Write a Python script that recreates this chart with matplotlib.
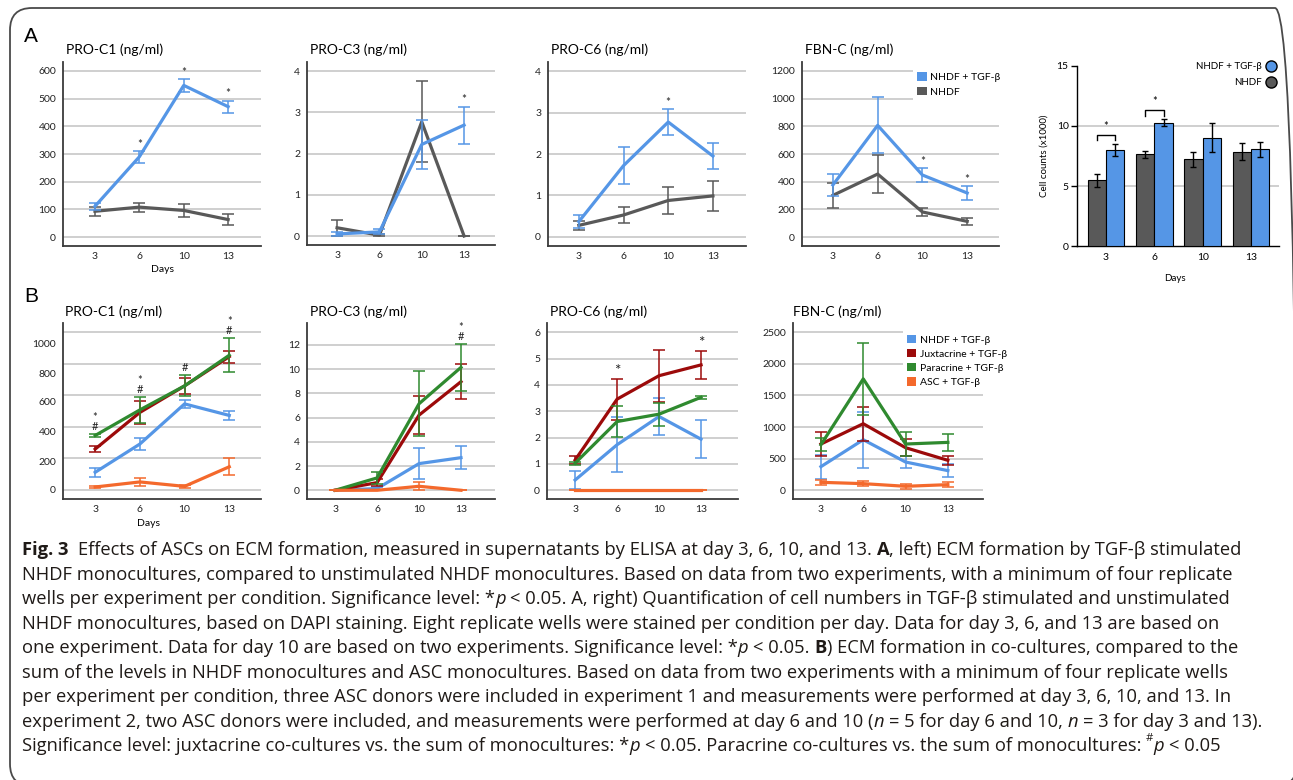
import matplotlib
matplotlib.use('Agg')
import matplotlib.pyplot as plt
from matplotlib.patches import Patch, FancyBboxPatch
from matplotlib.lines import Line2D
from matplotlib.transforms import IdentityTransform
import numpy as np

W, H = 1293, 780
FONT = 'Lato'
CAP_FONT = 'Open Sans'
plt.rcParams['font.family'] = [FONT, 'DejaVu Sans']

BLUE = '#5596E6'
GRAY = '#595959'
RED = '#9C0A0A'
GREEN = '#2F8A2F'
ORANGE = '#F4692C'
GRID = '#CCCCCC'
SPINE = '#3A3A3A'

days = ['3', '6', '10', '13']

# ---------------- Panel A data ----------------
a_pc1_tgf = [111, 290, 548, 471]
a_pc1_tgf_err = [13, 21, 23, 22]
a_pc1_nhdf = [93, 108, 96, 63]
a_pc1_nhdf_err = [17, 16, 23, 20]
a_pc1_sig = ['', '*', '*', '*']

a_pc3_tgf = [0.05, 0.10, 2.22, 2.69]
a_pc3_tgf_err = [0.05, 0.06, 0.60, 0.45]
a_pc3_nhdf = [0.20, 0.02, 2.77, 0.0]
a_pc3_nhdf_err = [0.20, 0.02, 0.98, 0.0]
a_pc3_sig = ['', '', '', '*']

a_pc6_tgf = [0.37, 1.72, 2.77, 1.95]
a_pc6_tgf_err = [0.16, 0.45, 0.31, 0.31]
a_pc6_nhdf = [0.28, 0.53, 0.88, 0.99]
a_pc6_nhdf_err = [0.10, 0.20, 0.33, 0.37]
a_pc6_sig = ['', '', '*', '']

a_fbn_tgf = [376, 807, 448, 318]
a_fbn_tgf_err = [80, 203, 48, 48]
a_fbn_nhdf = [301, 455, 181, 113]
a_fbn_nhdf_err = [89, 140, 31, 28]
a_fbn_sig = ['', '', '*', '*']

cells_nhdf = [5.47, 7.64, 7.22, 7.86]
cells_nhdf_err = [0.53, 0.27, 0.63, 0.72]
cells_tgf = [8.03, 10.28, 9.03, 8.06]
cells_tgf_err = [0.50, 0.27, 1.18, 0.62]
cells_sig = ['*', '*', '', '']

a_labels = ['NHDF + TGF-β', 'NHDF']

# ---------------- Panel B data ----------------
b_labels = ['NHDF + TGF-β', 'Juxtacrine + TGF-β', 'Paracrine + TGF-β', 'ASC + TGF-β']

b_pc1 = [[112, 291, 545, 472], [259, 491, 659, 844], [345, 507, 659, 853], [19, 51, 23, 147]]
b_pc1_err = [[30, 35, 24, 30], [20, 75, 50, 38], [10, 80, 66, 108], [8, 26, 9, 54]]
b_pc1_juxta_sig = ['*', '*', '', '*']
b_pc1_para_sig = ['#', '#', '#', '#']
b_pc1_ticks = [0, 200, 400, 600, 800, 1000]

b_pc3 = [[0, 0.14, 2.20, 2.69], [0, 0.63, 6.20, 8.96], [0, 1.02, 7.14, 10.14], [0, 0, 0.33, 0]]
b_pc3_err = [[0, 0.12, 1.25, 0.96], [0, 0.30, 1.57, 1.43], [0, 0.50, 2.68, 1.94], [0, 0, 0.33, 0]]
b_pc3_juxta_sig = ['', '', '', '*']
b_pc3_para_sig = ['', '', '', '#']

b_pc6 = [[0.39, 1.73, 2.80, 1.94], [1.15, 3.46, 4.35, 4.76], [1.03, 2.61, 2.89, 3.53], [0, 0, 0, 0]]
b_pc6_err = [[0.35, 1.05, 0.70, 0.72], [0.16, 0.78, 0.99, 0.52], [0.06, 0.60, 0.44, 0.05], [0, 0, 0, 0]]
b_pc6_juxta_sig = ['', '*', '', '*']

b_fbn = [[374, 800, 447, 311], [732, 1053, 674, 474], [721, 1763, 732, 758], [126, 105, 63, 89]]
b_fbn_err = [[190, 440, 100, 100], [197, 271, 137, 74], [100, 570, 195, 131], [37, 42, 37, 45]]

b_colors = [BLUE, RED, GREEN, ORANGE]

caption_lines = [
    [("Fig. 3", 'b'), ("  Effects of ASCs on ECM formation, measured in supernatants by ELISA at day 3, 6, 10, and 13. ", 'n'),
     ("A", 'b'), (", left) ECM formation by TGF-β stimulated", 'n')],
    [("NHDF monocultures, compared to unstimulated NHDF monocultures. Based on data from two experiments, with a minimum of four replicate", 'n')],
    [("wells per experiment per condition. Significance level: *", 'n'), ("p", 'i'),
     (" < 0.05. A, right) Quantification of cell numbers in TGF-β stimulated and unstimulated", 'n')],
    [("NHDF monocultures, based on DAPI staining. Eight replicate wells were stained per condition per day. Data for day 3, 6, and 13 are based on", 'n')],
    [("one experiment. Data for day 10 are based on two experiments. Significance level: *", 'n'), ("p", 'i'),
     (" < 0.05. ", 'n'), ("B", 'b'), (") ECM formation in co-cultures, compared to the", 'n')],
    [("sum of the levels in NHDF monocultures and ASC monocultures. Based on data from two experiments with a minimum of four replicate wells", 'n')],
    [("per experiment per condition, three ASC donors were included in experiment 1 and measurements were performed at day 3, 6, 10, and 13. In", 'n')],
    [("experiment 2, two ASC donors were included, and measurements were performed at day 6 and 10 (", 'n'), ("n", 'i'),
     (" = 5 for day 6 and 10, ", 'n'), ("n", 'i'), (" = 3 for day 3 and 13).", 'n')],
    [("Significance level: juxtacrine co-cultures vs. the sum of monocultures: *", 'n'), ("p", 'i'),
     (" < 0.05. Paracrine co-cultures vs. the sum of monocultures: ", 'n'), ("#", 's'), ("p", 'i'), (" < 0.05", 'n')],
]

fig = plt.figure(figsize=(W / 100, H / 100), dpi=100)


def add_ax(l, t, r, b):
    return fig.add_axes([l / W, 1 - b / H, (r - l) / W, (b - t) / H])


def fx(px):
    return px / W


def fy(py):
    return 1 - py / H


def style_line_ax(ax, xlim, ylim, gridvals, tickpos=None, ticklabels=None):
    ax.set_xlim(*xlim)
    ax.set_ylim(*ylim)
    for s in ['top', 'right']:
        ax.spines[s].set_visible(False)
    for s in ['left', 'bottom']:
        ax.spines[s].set_color(SPINE)
        ax.spines[s].set_linewidth(1.3)
    ax.set_xticks(range(len(days)), days)
    if tickpos is None:
        tickpos = gridvals
    if ticklabels is None:
        ticklabels = [f'{v:g}' for v in gridvals]
    ax.set_yticks(tickpos, ticklabels)
    ax.tick_params(length=0, labelsize=7.5, colors='#222222')
    ax.tick_params(axis='x', pad=4)
    ax.tick_params(axis='y', pad=5)
    for v in gridvals:
        ax.axhline(v, color=GRID, lw=1.3, zorder=0)
    ax.set_facecolor('none')


def plot_series(ax, vals, errs, color, z):
    ax.errorbar(range(len(days)), vals, yerr=errs, color=color, lw=2.3,
                elinewidth=1.1, capsize=4.2, capthick=1.1, zorder=z)


def sig_marks(ax, tops, marks, off=1.0, size=8):
    for i, m in enumerate(marks):
        if m:
            ax.annotate(m, (i, tops[i]), xytext=(0, off), textcoords='offset points',
                        ha='center', va='bottom', fontsize=size, color='#222222',
                        annotation_clip=False)


# Outer rounded frame (pixel coordinates, origin bottom-left)
frame = FancyBboxPatch((10, H - 786), 1287, 778,
                       boxstyle='round,pad=0,rounding_size=22', transform=IdentityTransform(),
                       facecolor='none', edgecolor='#4A4A4A', lw=1.3)
fig.patches.append(frame)

fig.text(fx(24), fy(36), 'A', fontsize=15, family='Liberation Sans', va='center', ha='left')
fig.text(fx(24), fy(297), 'B', fontsize=15, family='Liberation Sans', va='center', ha='left')

# ---------------- Panel A line charts ----------------
specs_a = [
    ('PRO-C1 (ng/ml)', (63, 62, 261, 246), (-0.72, 3.74), (-32.5, 632.5), [0, 100, 200, 300, 400, 500, 600],
     a_pc1_tgf, a_pc1_tgf_err, a_pc1_nhdf, a_pc1_nhdf_err, a_pc1_sig, 66),
    ('PRO-C3 (ng/ml)', (307, 62, 495, 245), (-0.71, 3.73), (-0.218, 4.22), [0, 1, 2, 3, 4],
     a_pc3_tgf, a_pc3_tgf_err, a_pc3_nhdf, a_pc3_nhdf_err, a_pc3_sig, 310),
    ('PRO-C6 (ng/ml)', (548, 62, 746, 246), (-0.69, 3.74), (-0.217, 4.217), [0, 1, 2, 3, 4],
     a_pc6_tgf, a_pc6_tgf_err, a_pc6_nhdf, a_pc6_nhdf_err, a_pc6_sig, 551),
    ('FBN-C (ng/ml)', (802, 62, 999, 246), (-0.69, 3.71), (-65, 1265), [0, 200, 400, 600, 800, 1000, 1200],
     a_fbn_tgf, a_fbn_tgf_err, a_fbn_nhdf, a_fbn_nhdf_err, a_fbn_sig, 805),
]

axes_a = []
for title, box, xl, yl, gv, tv, te, nv, ne, sig, tx in specs_a:
    ax = add_ax(*box)
    style_line_ax(ax, xl, yl, gv)
    plot_series(ax, nv, ne, GRAY, 3)
    plot_series(ax, tv, te, BLUE, 4)
    tops = [v + e for v, e in zip(tv, te)]
    sig_marks(ax, tops, sig, off=1.0, size=8.5)
    fig.text(fx(tx), fy(50), title, fontsize=10, va='center', ha='left')
    axes_a.append(ax)

fig.text(fx(162), fy(270), 'Days', fontsize=7.5, ha='center', va='center')

leg = axes_a[3].legend([Patch(facecolor=BLUE), Patch(facecolor=GRAY)], a_labels,
                       loc='upper left', bbox_to_anchor=(fx(913), fy(68)), bbox_transform=fig.transFigure,
                       frameon=True, facecolor='white', edgecolor='none', framealpha=1, fancybox=False,
                       fontsize=7.5, handlelength=0.9, handleheight=0.9, handletextpad=0.35,
                       labelspacing=0.45, borderpad=0.4, borderaxespad=0)
leg.set_zorder(10)

# ---------------- Panel A bar chart ----------------
axb = add_ax(1077, 66, 1279, 246)
xb = np.arange(len(days))
bw = 0.38
axb.bar(xb - bw / 2, cells_nhdf, bw, yerr=cells_nhdf_err, color=GRAY, edgecolor='black', lw=0.8,
        error_kw=dict(elinewidth=1.0, capsize=2.5, capthick=1.0, ecolor='black'), zorder=3)
axb.bar(xb + bw / 2, cells_tgf, bw, yerr=cells_tgf_err, color=BLUE, edgecolor='black', lw=0.8,
        error_kw=dict(elinewidth=1.0, capsize=2.5, capthick=1.0, ecolor='black'), zorder=3)
axb.set_xlim(-0.6, 3.58)
axb.set_ylim(0, 15)
bar_ticks = [0, 5, 10, 15]
axb.set_yticks(bar_ticks)
axb.set_xticks(xb, days)
for v in bar_ticks[1:-1]:
    axb.axhline(v, color=GRID, lw=1.3, zorder=0)
for s in ['top', 'right']:
    axb.spines[s].set_visible(False)
for s in ['left', 'bottom']:
    axb.spines[s].set_color('black')
    axb.spines[s].set_linewidth(1.0)
axb.tick_params(axis='y', length=4, width=1, labelsize=7.5, pad=2)
axb.tick_params(axis='x', length=0, labelsize=7.5, pad=5)
axb.set_facecolor('none')
for i, m in enumerate(cells_sig):
    if m:
        top = max(cells_nhdf[i] + cells_nhdf_err[i], cells_tgf[i] + cells_tgf_err[i]) + 0.75
        axb.plot([i - bw / 2, i - bw / 2, i + bw / 2, i + bw / 2], [top - 0.45, top, top, top - 0.45],
                 color='black', lw=1.0, zorder=4)
        axb.text(i, top + 0.25, m, ha='center', va='bottom', fontsize=8)
axb.set_ylabel('Cell counts (x1000)', fontsize=7, labelpad=6)
fig.text(fx(1175), fy(278), 'Days', fontsize=7, ha='center', va='center')
axb.legend([Line2D([], [], ls='', marker='o', markersize=8, markerfacecolor=BLUE, markeredgecolor='black', markeredgewidth=1.0),
            Line2D([], [], ls='', marker='o', markersize=8, markerfacecolor=GRAY, markeredgecolor='black', markeredgewidth=1.0)],
           a_labels, loc='upper right', bbox_to_anchor=(fx(1276), fy(62)), bbox_transform=fig.transFigure,
           frameon=False, markerfirst=False, fontsize=7, handlelength=1.0, handletextpad=0.5,
           labelspacing=0.75, borderpad=0, borderaxespad=0)

# ---------------- Panel B ----------------
specs_b = [
    ('PRO-C1 (ng/ml)', (63, 323, 261, 499), (-0.72, 3.71), (-57, 1057), b_pc1_ticks,
     [0, 180, 370, 560, 740, 930], b_pc1, b_pc1_err, b_pc1_juxta_sig, b_pc1_para_sig, 65),
    ('PRO-C3 (ng/ml)', (307, 323, 495, 499), (-0.67, 3.81), (-0.72, 13.8), [0, 2, 4, 6, 8, 10, 12],
     None, b_pc3, b_pc3_err, b_pc3_juxta_sig, b_pc3_para_sig, 310),
    ('PRO-C6 (ng/ml)', (547, 323, 738, 499), (-0.67, 3.88), (-0.33, 6.35), [0, 1, 2, 3, 4, 5, 6],
     None, b_pc6, b_pc6_err, b_pc6_juxta_sig, None, 550),
    ('FBN-C (ng/ml)', (793, 323, 983, 499), (-0.66, 3.83), (-138, 2647), [0, 500, 1000, 1500, 2000, 2500],
     None, b_fbn, b_fbn_err, None, None, 793),
]

axes_b = []
for title, box, xl, yl, gv, tp, vals, errs, jsig, psig, tx in specs_b:
    ax = add_ax(*box)
    style_line_ax(ax, xl, yl, gv, tickpos=tp, ticklabels=[f'{v:g}' for v in gv])
    for k, (v, e, c) in enumerate(zip(vals, errs, b_colors)):
        plot_series(ax, v, e, c, 3 + k)
    tops = [max(vals[k][i] + errs[k][i] for k in range(len(vals))) for i in range(len(days))]
    if psig is not None:
        sig_marks(ax, tops, psig, off=1.5, size=8)
        if jsig is not None:
            sig_marks(ax, tops, jsig, off=8.0, size=8)
    elif jsig is not None:
        sig_marks(ax, tops, jsig, off=0.5, size=11)
    fig.text(fx(tx), fy(312), title, fontsize=10, va='center', ha='left')
    axes_b.append(ax)

fig.text(fx(149), fy(523), 'Days', fontsize=7.5, ha='center', va='center')

leg2 = axes_b[3].legend([Patch(facecolor=c) for c in b_colors], b_labels,
                        loc='upper left', bbox_to_anchor=(fx(903), fy(331)), bbox_transform=fig.transFigure,
                        frameon=True, facecolor='white', edgecolor='none', framealpha=1, fancybox=False,
                        fontsize=7.5, handlelength=0.9, handleheight=0.9, handletextpad=0.35,
                        labelspacing=0.4, borderpad=0.35, borderaxespad=0)
leg2.set_zorder(10)

# ---------------- Caption ----------------
renderer = fig.canvas.get_renderer()


def make_text(s, style, size):
    kw = dict(fontsize=size, family=[CAP_FONT, 'DejaVu Sans'], color='#1F1A17', va='baseline', ha='left')
    if style == 'b':
        kw['fontweight'] = 'bold'
    elif style == 'i':
        kw['fontstyle'] = 'italic'
    elif style == 's':
        kw['fontsize'] = size * 0.62
    return fig.text(0, 0, s, **kw)


def width_of(t):
    return t.get_window_extent(renderer).width


def layout_line(segs, x0, ybase, size, draw=True):
    probe_a = make_text('x x', 'n', size)
    probe_b = make_text('xx', 'n', size)
    sp = width_of(probe_a) - width_of(probe_b)
    probe_a.remove()
    probe_b.remove()
    xcur = x0
    made = []
    for s, st in segs:
        lead = len(s) - len(s.lstrip(' '))
        trail = len(s) - len(s.rstrip(' '))
        core = s.strip(' ')
        xcur += lead * sp
        if core:
            t = make_text(core, st, size)
            yb = ybase - (size * 0.55 * 100 / 72 if st == 's' else 0)
            t.set_position((fx(xcur), fy(yb)))
            xcur += width_of(t)
            made.append(t)
        xcur += trail * sp
    if not draw:
        for t in made:
            t.remove()
    return xcur - x0


base = 10.0
w1 = layout_line(caption_lines[0], 22, 555, base, draw=False)
cap_size = base * (1225.0 / w1)
for i, segs in enumerate(caption_lines):
    layout_line(segs, 22, 555 + i * 24.55, cap_size)

fig.savefig('out.png', dpi=100)
